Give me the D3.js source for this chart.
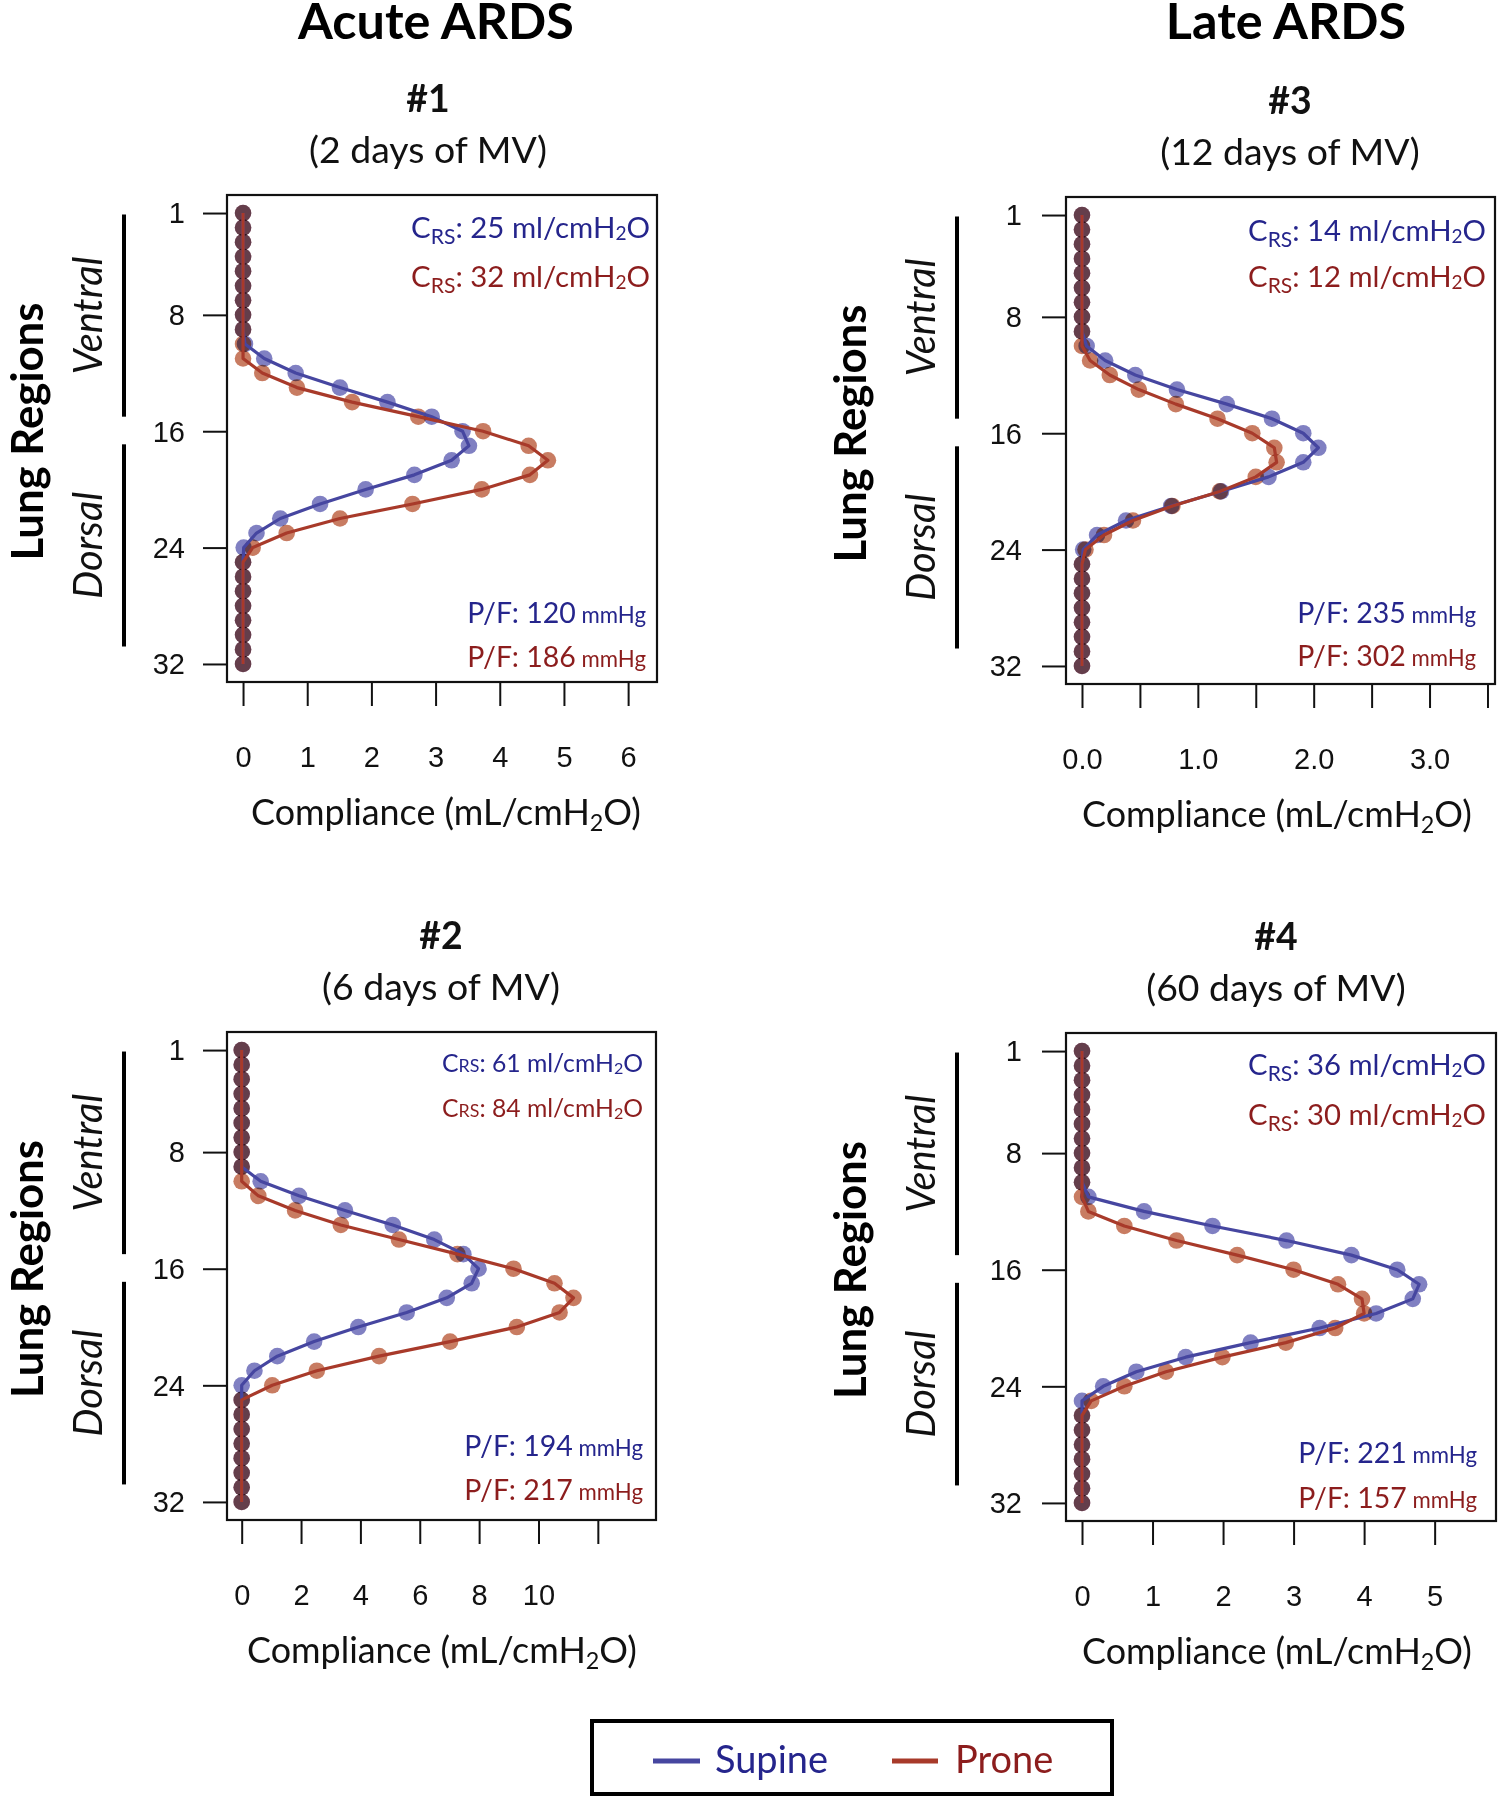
<!DOCTYPE html>
<html><head><meta charset="utf-8">
<script src="https://cdn.jsdelivr.net/npm/d3@7"></script>
<style>
body{margin:0;background:#fff;}
svg{display:block;}
</style></head><body>
<svg id="chart" width="1499" height="1800"></svg>
<script>
// ---------------- DATA ----------------
const regions = [1,2,3,4,5,6,7,8,9,10,11,12,13,14,15,16,17,18,19,20,21,22,23,24,25,26,27,28,29,30,31,32];
const yTickValues = [1, 8, 16, 24, 32];
const columnTitles = ["Acute ARDS", "Late ARDS"];
const seriesNames = ["Supine", "Prone"];
const panelIds = ["#1", "#2", "#3", "#4"];
const panelDays = ["(2 days of MV)", "(6 days of MV)", "(12 days of MV)", "(60 days of MV)"];
const crsSupine = [25, 61, 14, 36];
const crsProne = [32, 84, 12, 30];
const pfSupine = [120, 194, 235, 221];
const pfProne = [186, 217, 302, 157];

const p1Supine = [0,0,0,0,0,0,0,0,0,0.03,0.33,0.82,1.51,2.25,2.94,3.42,3.52,3.25,2.67,1.91,1.20,0.58,0.21,0.01,0,0,0,0,0,0,0,0];
const p1Prone  = [0,0,0,0,0,0,0,0,0,0,0,0.30,0.84,1.70,2.73,3.74,4.45,4.75,4.47,3.72,2.64,1.51,0.68,0.15,0,0,0,0,0,0,0,0];
const p2Supine = [0,0,0,0,0,0,0,0,0,0.64,1.93,3.48,5.09,6.49,7.47,7.98,7.75,6.91,5.56,3.93,2.44,1.20,0.43,0,0,0,0,0,0,0,0,0];
const p2Prone  = [0,0,0,0,0,0,0,0,0,0,0.56,1.80,3.34,5.30,7.27,9.16,10.54,11.18,10.71,9.27,7.02,4.63,2.53,1.03,0,0,0,0,0,0,0,0];
const p3Supine = [0,0,0,0,0,0,0,0,0,0.04,0.20,0.46,0.82,1.25,1.64,1.91,2.04,1.91,1.61,1.20,0.77,0.38,0.13,0.01,0,0,0,0,0,0,0,0];
const p3Prone  = [0,0,0,0,0,0,0,0,0,0,0.07,0.24,0.49,0.81,1.17,1.47,1.66,1.68,1.50,1.19,0.78,0.44,0.19,0.03,0,0,0,0,0,0,0,0];
const p4Supine = [0,0,0,0,0,0,0,0,0,0,0.09,0.88,1.85,2.90,3.82,4.47,4.78,4.69,4.17,3.37,2.39,1.47,0.77,0.30,0,0,0,0,0,0,0,0];
const p4Prone  = [0,0,0,0,0,0,0,0,0,0,0,0.09,0.60,1.34,2.20,3.00,3.63,3.97,4.00,3.59,2.89,1.99,1.19,0.60,0.13,0,0,0,0,0,0,0];

const xTicks1 = [0,1,2,3,4,5,6];            const xTickLabels1 = ["0","1","2","3","4","5","6"];
const xTicks2 = [0,2,4,6,8,10,12];          const xTickLabels2 = ["0","2","4","6","8","10",""];
const xTicks3 = [0,0.5,1,1.5,2,2.5,3,3.5];  const xTickLabels3 = ["0.0","","1.0","","2.0","","3.0",""];
const xTicks4 = [0,1,2,3,4,5];              const xTickLabels4 = ["0","1","2","3","4","5"];

// ---------------- LAYOUT / STYLE ----------------
const FONT = "Lato, 'Open Sans', sans-serif";
const NUMFONT = "'Liberation Sans', Arial, sans-serif";
const C = {
  blueLine: "#4646a0", redLine: "#a83a2a",
  bluePt: "#8080c2", redPt: "#c87c62",
  blueText: "#25258c", redText: "#8c1d1d"
};

const panels = [
  {supine:p1Supine, prone:p1Prone, ticks:xTicks1, labels:xTickLabels1,
   box:[227,195,657,682], xdom:[-0.25,6.45], col:0, titleX:428, xTitleX:446,
   crsR:650, crsY:[238,287], crsW:239, rsSub:true, pfR:646, pfY:[623,667]},
  {supine:p2Supine, prone:p2Prone, ticks:xTicks2, labels:xTickLabels2,
   box:[227,1032,656,1520], xdom:[-0.495,13.96], col:0, titleX:441, xTitleX:442,
   crsR:643, crsY:[1072,1117], crsW:201, rsSub:false, pfR:643, pfY:[1456,1500]},
  {supine:p3Supine, prone:p3Prone, ticks:xTicks3, labels:xTickLabels3,
   box:[1066,197,1495,684], xdom:[-0.138,3.565], col:1, titleX:1290, xTitleX:1277,
   crsR:1486, crsY:[241,287], crsW:238, rsSub:true, pfR:1476, pfY:[623,666]},
  {supine:p4Supine, prone:p4Prone, ticks:xTicks4, labels:xTickLabels4,
   box:[1066,1033,1496,1521], xdom:[-0.227,5.87], col:1, titleX:1276, xTitleX:1277,
   crsR:1486, crsY:[1075,1125], crsW:238, rsSub:true, pfR:1477, pfY:[1463,1508]}
];
const colOff = [
  {tickPad:18, bar:103, vtxt:125, lr:184},
  {tickPad:20, bar:109, vtxt:131, lr:200}
];

const svg = d3.select("#chart");

function fitWidth(sel, w) {
  const fs = parseFloat(sel.attr("font-size"));
  const bw = sel.node().getBBox().width;
  sel.attr("font-size", fs * w / bw);
  return fs * w / bw;
}

// column titles
const ct = svg.append("text").attr("x", 436).attr("y", 39).attr("text-anchor","middle")
  .attr("font-family", FONT).attr("font-weight", 700).attr("font-size", 48).text(columnTitles[0]);
const ctSize = fitWidth(ct, 277);
svg.append("text").attr("x", 1286).attr("y", 39).attr("text-anchor","middle")
  .attr("font-family", FONT).attr("font-weight", 700).attr("font-size", ctSize).text(columnTitles[1]);

let subSize = null, xtSize = null, vSize = null, lrSize = null;

panels.forEach((p, i) => {
  const [bx0, by0, bx1, by1] = p.box;
  const off = colOff[p.col];
  const g = svg.append("g");
  const x = d3.scaleLinear().domain(p.xdom).range([bx0, bx1]);
  const y = d3.scaleLinear().domain([1 - 1.24, 32 + 1.24]).range([by0, by1]);

  // titles
  const st = g.append("text").attr("x", p.titleX).attr("y", by0 - 32).attr("text-anchor","middle")
    .attr("font-family", FONT).attr("font-size", 36).attr("fill","#111").text(panelDays[i]);
  if (subSize === null) subSize = fitWidth(st, 238); else st.attr("font-size", subSize);
  g.append("text").attr("x", p.titleX).attr("y", by0 - 83).attr("text-anchor","middle")
    .attr("font-family", FONT).attr("font-weight", 700).attr("font-size", subSize).attr("fill","#111").text(panelIds[i]);

  // axes
  const yAxis = d3.axisLeft(y).tickValues(yTickValues).tickSize(24).tickPadding(off.tickPad);
  const ya = g.append("g").attr("transform", `translate(${bx0},0)`).call(yAxis);
  ya.select(".domain").remove();
  ya.selectAll("line").attr("stroke","#111").attr("stroke-width",2);
  ya.selectAll("text").attr("font-family", NUMFONT).attr("font-size", 29).attr("fill","#111").attr("dy","0.34em");

  const xAxis = d3.axisBottom(x).tickValues(p.ticks).tickSize(24).tickPadding(40)
    .tickFormat((d, k) => p.labels[k]);
  const xa = g.append("g").attr("transform", `translate(0,${by1})`).call(xAxis);
  xa.select(".domain").remove();
  xa.selectAll("line").attr("stroke","#111").attr("stroke-width",2);
  xa.selectAll("text").attr("font-family", NUMFONT).attr("font-size", 29).attr("fill","#111");

  // x axis title
  const xt = g.append("text").attr("x", p.xTitleX).attr("y", by1 + 143).attr("text-anchor","middle")
    .attr("font-family", FONT).attr("font-size", 36).attr("fill","#111");
  xt.append("tspan").text("Compliance (mL/cmH");
  xt.append("tspan").attr("font-size","65%").attr("dy","0.25em").text("2");
  xt.append("tspan").attr("dy","-0.1625em").text("O)");
  if (xtSize === null) xtSize = fitWidth(xt, 390); else xt.attr("font-size", xtSize);

  // ventral / dorsal bars
  const bxv = bx0 - off.bar;
  g.append("line").attr("x1", bxv).attr("x2", bxv).attr("y1", y(1.1)).attr("y2", y(15.0))
    .attr("stroke","#000").attr("stroke-width",4);
  g.append("line").attr("x1", bxv).attr("x2", bxv).attr("y1", y(16.9)).attr("y2", y(30.8))
    .attr("stroke","#000").attr("stroke-width",4);
  const tv = bx0 - off.vtxt;
  const vt = g.append("text").attr("transform", `translate(${tv},${y(8.05)}) rotate(-90)`)
    .attr("text-anchor","middle").attr("font-family", FONT).attr("font-style","italic")
    .attr("font-size", 32).attr("fill","#111").text("Ventral");
  if (vSize === null) vSize = fitWidth(vt, 118); else vt.attr("font-size", vSize);
  g.append("text").attr("transform", `translate(${tv},${y(23.85)}) rotate(-90)`)
    .attr("text-anchor","middle").attr("font-family", FONT).attr("font-style","italic")
    .attr("font-size", vSize).attr("fill","#111").text("Dorsal");
  const lr = g.append("text").attr("transform", `translate(${bx0 - off.lr},${(by0+by1)/2 - 7}) rotate(-90)`)
    .attr("text-anchor","middle").attr("font-family", FONT).attr("font-weight",700)
    .attr("font-size", 40).attr("fill","#000").text("Lung Regions");
  if (lrSize === null) lrSize = fitWidth(lr, 258); else lr.attr("font-size", lrSize);

  // data
  const sets = [
    {vals:p.supine, line:C.blueLine, pt:C.bluePt},
    {vals:p.prone, line:C.redLine, pt:C.redPt}
  ];
  sets.forEach(s => {
    g.append("g").selectAll("circle").data(regions.map((r, k) => ({r, v:s.vals[k]})))
      .join("circle").attr("cx", d => x(d.v)).attr("cy", d => y(d.r)).attr("r", 8.3)
      .attr("fill", s.pt).style("mix-blend-mode","multiply");
  });
  const line = d3.line().x(d => x(d.v)).y(d => y(d.r));
  sets.forEach(s => {
    g.append("path").datum(regions.map((r, k) => ({r, v:s.vals[k]})))
      .attr("d", line).attr("fill","none").attr("stroke", s.line).attr("stroke-width",3.2)
      .attr("stroke-linejoin","round");
  });

  // box
  g.append("rect").attr("x", bx0).attr("y", by0).attr("width", bx1-bx0).attr("height", by1-by0)
    .attr("fill","none").attr("stroke","#111").attr("stroke-width",2.2);

  // annotations
  function crs(yb, val, color) {
    const t = g.append("text").attr("x", p.crsR).attr("y", yb).attr("text-anchor","end")
      .attr("font-family", FONT).attr("font-size", 29).attr("fill", color);
    t.append("tspan").text("C");
    if (p.rsSub) {
      t.append("tspan").attr("font-size","72%").attr("dy","0.3em").text("RS");
      t.append("tspan").attr("dy","-0.216em").text(": " + val + " ml/cmH");
    } else {
      t.append("tspan").attr("font-size","72%").text("RS");
      t.append("tspan").text(": " + val + " ml/cmH");
    }
    t.append("tspan").attr("font-size","65%").attr("dy","0.12em").text("2");
    t.append("tspan").attr("dy","-0.078em").text("O");
    fitWidth(t, p.crsW);
  }
  crs(p.crsY[0], crsSupine[i], C.blueText);
  crs(p.crsY[1], crsProne[i], C.redText);
  function pf(yb, val, color) {
    const t = g.append("text").attr("x", p.pfR).attr("y", yb).attr("text-anchor","end")
      .attr("font-family", FONT).attr("font-size", 28.5).attr("fill", color);
    t.append("tspan").text("P/F: " + val);
    t.append("tspan").attr("font-size","78%").text(" mmHg");
  }
  pf(p.pfY[0], pfSupine[i], C.blueText);
  pf(p.pfY[1], pfProne[i], C.redText);
});

// legend
const lg = svg.append("g");
lg.append("rect").attr("x", 592).attr("y", 1721).attr("width", 520).attr("height", 73)
  .attr("fill","#fff").attr("stroke","#000").attr("stroke-width",4);
lg.append("line").attr("x1",653).attr("x2",700).attr("y1",1761).attr("y2",1761)
  .attr("stroke", C.blueLine).attr("stroke-width",5);
const ls = lg.append("text").attr("x",715).attr("y",1773).attr("font-family",FONT)
  .attr("font-size",36).attr("fill",C.blueText).text(seriesNames[0]);
const lgSize = fitWidth(ls, 113);
lg.append("line").attr("x1",892).attr("x2",938).attr("y1",1761).attr("y2",1761)
  .attr("stroke", C.redLine).attr("stroke-width",5);
lg.append("text").attr("x",955).attr("y",1773).attr("font-family",FONT)
  .attr("font-size",lgSize).attr("fill",C.redText).text(seriesNames[1]);
</script>
</body></html>
